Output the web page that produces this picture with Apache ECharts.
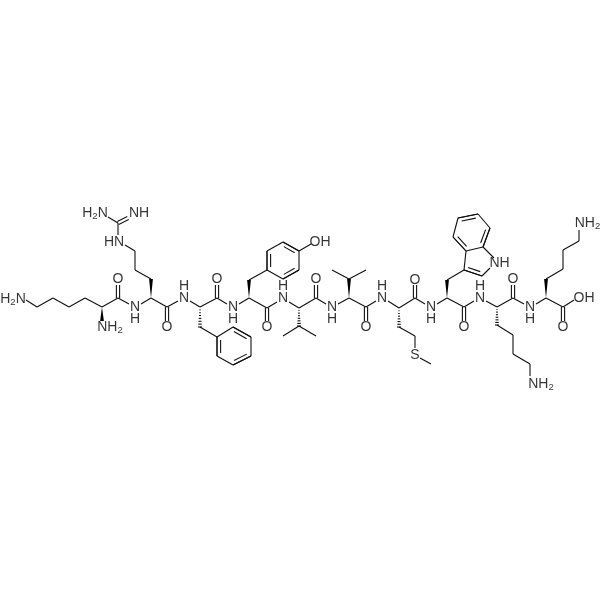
<!DOCTYPE html>
<html><head><meta charset="utf-8">
<style>html,body{margin:0;padding:0;background:#fff}#c{width:600px;height:600px}</style>
<script src="https://cdn.jsdelivr.net/npm/echarts@6/dist/echarts.min.js"></script>
</head><body><div id="c"></div>
<script>
// x1,y1,x2,y2 in picture units
const singleBonds = [
 // Lys 1
 [26,300,37,307],[37,307,53,298],[53,298,69,307],[69,307,85,298],[85,298,102,307],[102,307,118,298],
 [118,298,129,304],[141,304,151,298],
 // Arg
 [151,279,135,270],[135,270,135,251],[135,251,125,245],[118,235,118,223],[118,223,108,217],
 [151,298,167,307],[167,307,178,301],[190,301,200,307],
 // Phe
 [200,327,217,337],[217,337,233,327],[233,327,251,337],[251,337,251,356],[251,356,233,365],[233,365,217,356],[217,356,217,337],
 [200,307,217,298],[217,298,227,304],[239,304,249,298],
 // Tyr
 [249,280,267,270],[267,270,267,251],[267,251,283,242],[283,242,299,251],[299,251,299,270],[299,270,283,279],[283,279,267,270],
 [299,251,311,244],[249,298,267,308],[267,308,277,302],[289,302,299,308],
 // Val
 [299,326,283,336],[299,326,316,336],[299,308,316,298],[316,298,326,304],[338,304,349,298],
 // Val
 [349,279,332,270],[349,279,366,270],[349,298,366,307],[366,307,376,301],[388,301,399,308],
 // Met
 [399,327,415,336],[415,336,415,348],[420,358,431,364],[399,308,415,298],[415,298,425,304],[437,304,447,298],
 // Trp
 [447,280,464,270],[464,270,466,251],[464,270,482,276],[482,276,490,268],[494,258,483,247],[483,247,466,251],
 [466,251,453,237],[453,237,458,218],[458,218,478,214],[478,214,490,228],[490,228,483,247],
 [447,298,464,307],[464,307,474,301],[486,301,497,307],
 // Lys
 [497,325,513,335],[513,335,513,354],[513,354,530,364],[530,364,530,376],
 [497,307,513,298],[513,298,524,304],[536,304,546,298],
 // Lys C-term
 [546,279,563,269],[563,269,563,250],[563,250,579,241],[579,241,579,230],
 [546,298,563,307],[563,307,574,300]
];
// centred double bonds: both strokes sit either side of the axis
const centredDoubles = [
 [118,298,118,285],[167,307,167,321],[217,298,217,285],[267,308,267,321],[316,298,316,285],
 [366,307,366,321],[415,298,415,285],[464,307,464,321],[513,298,513,285],[563,307,563,321],
 [118,223,128,218]
];
// ring double bonds: x1,y1,x2,y2 and the ring centre the inner stroke leans to
const ringDoubles = [
 [217,337,217,356,234,346],[233,327,251,337,234,346],[251,356,233,365,234,346],
 [267,251,267,270,283,260],[283,242,299,251,283,260],[299,270,283,279,283,260],
 [458,218,478,214,472,233],[453,237,466,251,472,233],[490,228,483,247,472,233],
 [464,270,482,276,476,262]
];
const wedgeBonds = [[102,307,102,321],[151,298,151,279],[249,298,249,280],[349,298,349,279],[447,298,447,280],[546,298,546,279]];
const hashBonds = [[200,307,200,327],[299,308,299,326],[399,308,399,327],[497,307,497,325]];
// x,y,text; a subscript digit is written _2. x,y is the label centre
const atomLabels = [
 [13,299,'H_2N'],[110,327,'NH_2'],[118,279,'O'],[135,307,'N'],[135,319,'H'],
 [114,242,'HN'],[95,213,'H_2N'],[139,213,'NH'],
 [167,327,'O'],[184,298,'N'],[184,286,'H'],
 [217,279,'O'],[233,307,'N'],[233,319,'H'],
 [320,242,'OH'],[267,327,'O'],[283,298,'N'],[283,286,'H'],
 [316,279,'O'],[332,307,'N'],[332,319,'H'],
 [366,327,'O'],[382,298,'N'],[382,286,'H'],
 [415,355,'S'],[415,280,'O'],[431,307,'N'],[431,319,'H'],
 [499.5,263,'NH'],[464,327,'O'],[480,298,'N'],[480,286,'H'],
 [541,384,'NH_2'],[513,279,'O'],[530,307,'N'],[530,319,'H'],
 [587.5,223,'NH_2'],[563,327,'O'],[584,298,'OH']
];

const ink = '#111', W = 1.1;
const toText = t => t.split(/(_2)/).filter(Boolean).map(p => p === '_2' ? '{s|2}' : '{a|' + p + '}').join('');
const lineEl = (a, b, c, d) => ({type:'line', shape:{x1:a,y1:b,x2:c,y2:d}, style:{stroke:ink, lineWidth:W}});

function bondSeries(data, render) {
  return {type:'custom', coordinateSystem:'cartesian2d', data, silent:true, encode:{x:[0,2], y:[1,3]},
    renderItem(p, api) {
      const A = api.coord([api.value(0), api.value(1)]), B = api.coord([api.value(2), api.value(3)]);
      const C = data[p.dataIndex].length > 4 ? api.coord([api.value(4), api.value(5)]) : null;
      const dx = B[0]-A[0], dy = B[1]-A[1], L = Math.hypot(dx,dy), ux = dx/L, uy = dy/L, nx = -uy, ny = ux;
      return {type:'group', children: render(A,B,C,ux,uy,nx,ny,L)};
    }};
}
const option = {
  animation:false, backgroundColor:'#fff',
  grid:{left:0,right:0,top:0,bottom:0},
  xAxis:{type:'value',min:0,max:600,show:false},
  yAxis:{type:'value',min:0,max:600,inverse:true,show:false},
  series:[
    bondSeries(singleBonds,(A,B)=>[lineEl(A[0],A[1],B[0],B[1])]),
    bondSeries(centredDoubles,(A,B,C,ux,uy,nx,ny)=>{const o=1.6;return [
      lineEl(A[0]+nx*o,A[1]+ny*o,B[0]+nx*o,B[1]+ny*o),
      lineEl(A[0]-nx*o,A[1]-ny*o,B[0]-nx*o,B[1]-ny*o)];}),
    {...bondSeries(ringDoubles,(A,B,C,ux,uy,nx,ny,L)=>{
      const s=((C[0]-A[0])*nx+(C[1]-A[1])*ny)>0?1:-1,o=3.6,t=3;
      return [lineEl(A[0],A[1],B[0],B[1]),
        lineEl(A[0]+nx*o*s+ux*t,A[1]+ny*o*s+uy*t,B[0]+nx*o*s-ux*t,B[1]+ny*o*s-uy*t)];
    }), encode:{x:[0,2,4],y:[1,3,5]}},
    bondSeries(wedgeBonds,(A,B,C,ux,uy,nx,ny)=>{const h=1.9;return [{type:'polygon',
      shape:{points:[[A[0],A[1]],[B[0]+nx*h,B[1]+ny*h],[B[0]-nx*h,B[1]-ny*h]]},style:{fill:'#000'}}];}),
    bondSeries(hashBonds,(A,B,C,ux,uy,nx,ny,L)=>{const out=[],n=7;for(let i=1;i<=n;i++){
      const f=i/n,h=0.3+1.7*f,x=A[0]+ux*L*f,y=A[1]+uy*L*f;
      out.push(lineEl(x-nx*h,y-ny*h,x+nx*h,y+ny*h));}return out;}),
    {type:'scatter',symbolSize:0,silent:true,z:5,data:atomLabels.map(d=>({value:[d[0],d[1]],name:d[2]})),
     label:{show:true,position:'inside',align:'center',verticalAlign:'middle',
       formatter:p=>toText(p.name),
       rich:{a:{fontFamily:'Liberation Sans',fontSize:14,color:'#000',lineHeight:16},
             s:{fontFamily:'Liberation Sans',fontSize:9.5,color:'#000',lineHeight:16,padding:[7,0,0,0]}}}}
  ]
};
echarts.init(document.getElementById('c'),null,{renderer:'canvas'}).setOption(option);
</script></body></html>
